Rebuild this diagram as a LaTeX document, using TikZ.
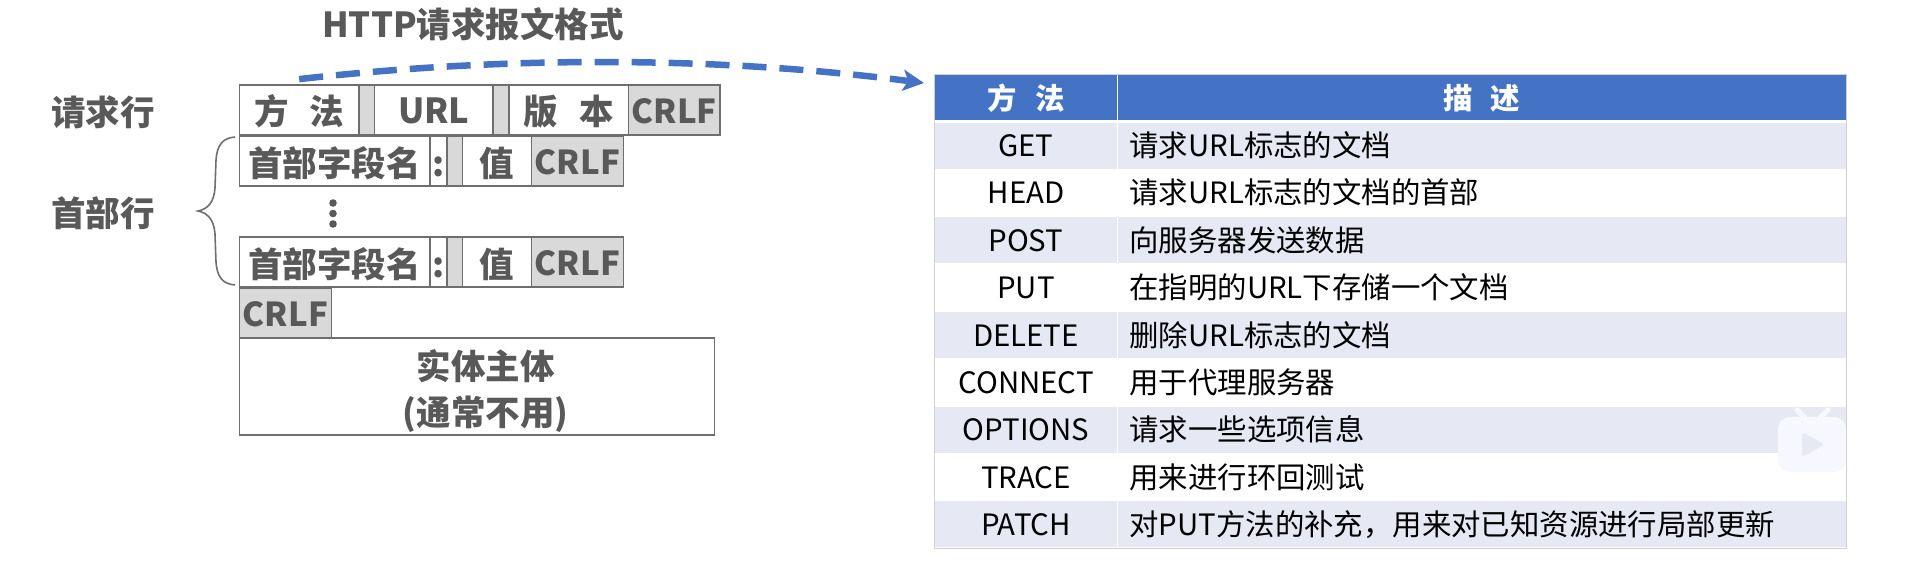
\documentclass[tikz,border=0pt]{standalone}
\usepackage{fontspec}
\setmainfont{Noto Sans CJK SC}
\usetikzlibrary{arrows.meta}
\definecolor{inkgrey}{HTML}{595959}
\definecolor{cellgrey}{HTML}{D9D9D9}
\definecolor{rulegrey}{HTML}{6E6E6E}
\definecolor{headblue}{HTML}{4472C4}
\definecolor{rowtint}{HTML}{E6E9F3}
\newcommand{\gapsp}{\hspace{0.62em}}
\tikzset{
  lefttext/.style={text=inkgrey, font=\bfseries\fontsize{34.5}{46}\selectfont, inner sep=0pt, align=center},
  cell/.style={lefttext, draw=rulegrey, line width=1.8pt, fill=white, minimum height=50pt, text height=35pt, text depth=5pt},
  crlf/.style={cell, fill=cellgrey, font=\bfseries\fontsize{33}{40}\selectfont, text height=32pt},
  sepcell/.style={cell, fill=cellgrey},
  headcell/.style={draw=white, line width=1pt, fill=headblue, text=white, font=\bfseries\fontsize{29.4}{34}\selectfont, minimum height=46pt, inner sep=0pt},
  mthcell/.style={draw=white, line width=1pt, minimum width=183pt, minimum height=47.33pt, inner sep=0pt, font=\fontsize{29.4}{34}\selectfont, text height=27pt, text depth=5pt},
  desccell/.style={mthcell, minimum width=728.5pt, text width=704.5pt, inner xsep=12pt, align=left},
  tinted/.style={fill=rowtint}
}
\begin{document}
\begin{tikzpicture}[x=1pt,y=-1pt]
\useasboundingbox (0,0) rectangle (1906,561);
% left side
\node[lefttext] (title) at (473,24) {HTTP请求报文格式};
\node[lefttext] (reqlabel) at (103,112) {请求行};
\node[lefttext] (headlabel) at (103,213) {首部行};
\node[cell, minimum width=119.6pt] (reqmth) at (299.2,110) {方\gapsp 法};
\node[sepcell, minimum width=15.5pt] (reqgapa) at (366.8,110) {};
\node[cell, minimum width=118.5pt, text height=32pt] (requrl) at (433.8,110) {URL};
\node[sepcell, minimum width=16pt] (reqgapb) at (501,110) {};
\node[cell, minimum width=119.5pt] (reqver) at (568.8,110) {版\gapsp 本};
\node[crlf, minimum width=91.5pt] (reqcrlf) at (674.2,110) {CRLF};
\node[cell, minimum width=190.6pt] (hdaname) at (334.7,161.4) {首部字段名};
\node[cell, minimum width=16.7pt] (hdacolon) at (438.4,161.4) {:};
\node[sepcell, minimum width=15.7pt] (hdagap) at (454.6,161.4) {};
\node[cell, minimum width=69.1pt] (hdaval) at (497,161.4) {值};
\node[crlf, minimum width=92.1pt] (hdacrlf) at (577.5,161.4) {CRLF};
\node[cell, minimum width=190.6pt] (hdbname) at (334.7,262.3) {首部字段名};
\node[cell, minimum width=16.7pt] (hdbcolon) at (438.4,262.3) {:};
\node[sepcell, minimum width=15.7pt] (hdbgap) at (454.6,262.3) {};
\node[cell, minimum width=69.1pt] (hdbval) at (497,262.3) {值};
\node[crlf, minimum width=92.1pt] (hdbcrlf) at (577.5,262.3) {CRLF};
\node[crlf, minimum width=92.1pt] (endcrlf) at (285.5,313.3) {CRLF};
\draw[rulegrey, line width=1.8pt, fill=white] (239.4,338.3) rectangle (714.5,435);
\node[lefttext] (bodytext) at (485.5,391) {实体主体\\(通常不用)};
% vertical dots
\fill[inkgrey] (333,203) circle (3.8pt) (333,213.5) circle (3.8pt) (333,224) circle (3.8pt);
% brace
\draw[rulegrey, line width=1.6pt] (235,137) .. controls (222,138) and (217,146) .. (216,160) -- (215,188) .. controls (214,202) and (208,209) .. (198,211) .. controls (208,213) and (214,220) .. (215,234) -- (216,262) .. controls (217,276) and (222,284) .. (235,285);
% table
\node[headcell, minimum width=183pt] (hmth) at (1026,98) {方\gapsp 法};
\node[headcell, minimum width=728.5pt] (hdesc) at (1481.75,98) {描\gapsp 述};
\node[mthcell, tinted] (mget) at (1026,145.7) {GET};
\node[desccell, tinted] (dget) at (1481.75,145.7) {请求URL标志的文档};
\node[mthcell] (mhead) at (1026,193) {HEAD};
\node[desccell] (dhead) at (1481.75,193) {请求URL标志的文档的首部};
\node[mthcell, tinted] (mpost) at (1026,240.3) {POST};
\node[desccell, tinted] (dpost) at (1481.75,240.3) {向服务器发送数据};
\node[mthcell] (mput) at (1026,287.7) {PUT};
\node[desccell] (dput) at (1481.75,287.7) {在指明的URL下存储一个文档};
\node[mthcell, tinted] (mdel) at (1026,335) {DELETE};
\node[desccell, tinted] (ddel) at (1481.75,335) {删除URL标志的文档};
\node[mthcell] (mconn) at (1026,382.3) {CONNECT};
\node[desccell] (dconn) at (1481.75,382.3) {用于代理服务器};
\node[mthcell, tinted] (mopt) at (1026,429.7) {OPTIONS};
\node[desccell, tinted] (dopt) at (1481.75,429.7) {请求一些选项信息};
\node[mthcell] (mtrace) at (1026,477) {TRACE};
\node[desccell] (dtrace) at (1481.75,477) {用来进行环回测试};
\node[mthcell, tinted] (mpatch) at (1026,524.3) {PATCH};
\node[desccell, tinted] (dpatch) at (1481.75,524.3) {对PUT方法的补充\char"FF0C 用来对已知资源进行局部更新};
\draw[black!18, line width=1pt] (hmth.north west) rectangle (dpatch.south east);
% dashed link
\coordinate (linkend) at (924,83);
\draw[headblue, line width=6.5pt, dash pattern=on 24pt off 13pt, -{Stealth[length=21pt,width=21pt,inset=5pt]}] ([yshift=5pt]reqmth.north) .. controls (506,56) and (714,56) .. (linkend);
% watermark
\draw[white!97!blue, line width=5pt, line cap=round] (1805,418) -- (1797,410) (1820,418) -- (1828,410);
\fill[white!97!blue, rounded corners=12pt] (1778,417) rectangle (1846,472);
\fill[rowtint, rounded corners=3pt] (1802,432) -- (1825,444.5) -- (1802,457) -- cycle;
\end{tikzpicture}
\end{document}
